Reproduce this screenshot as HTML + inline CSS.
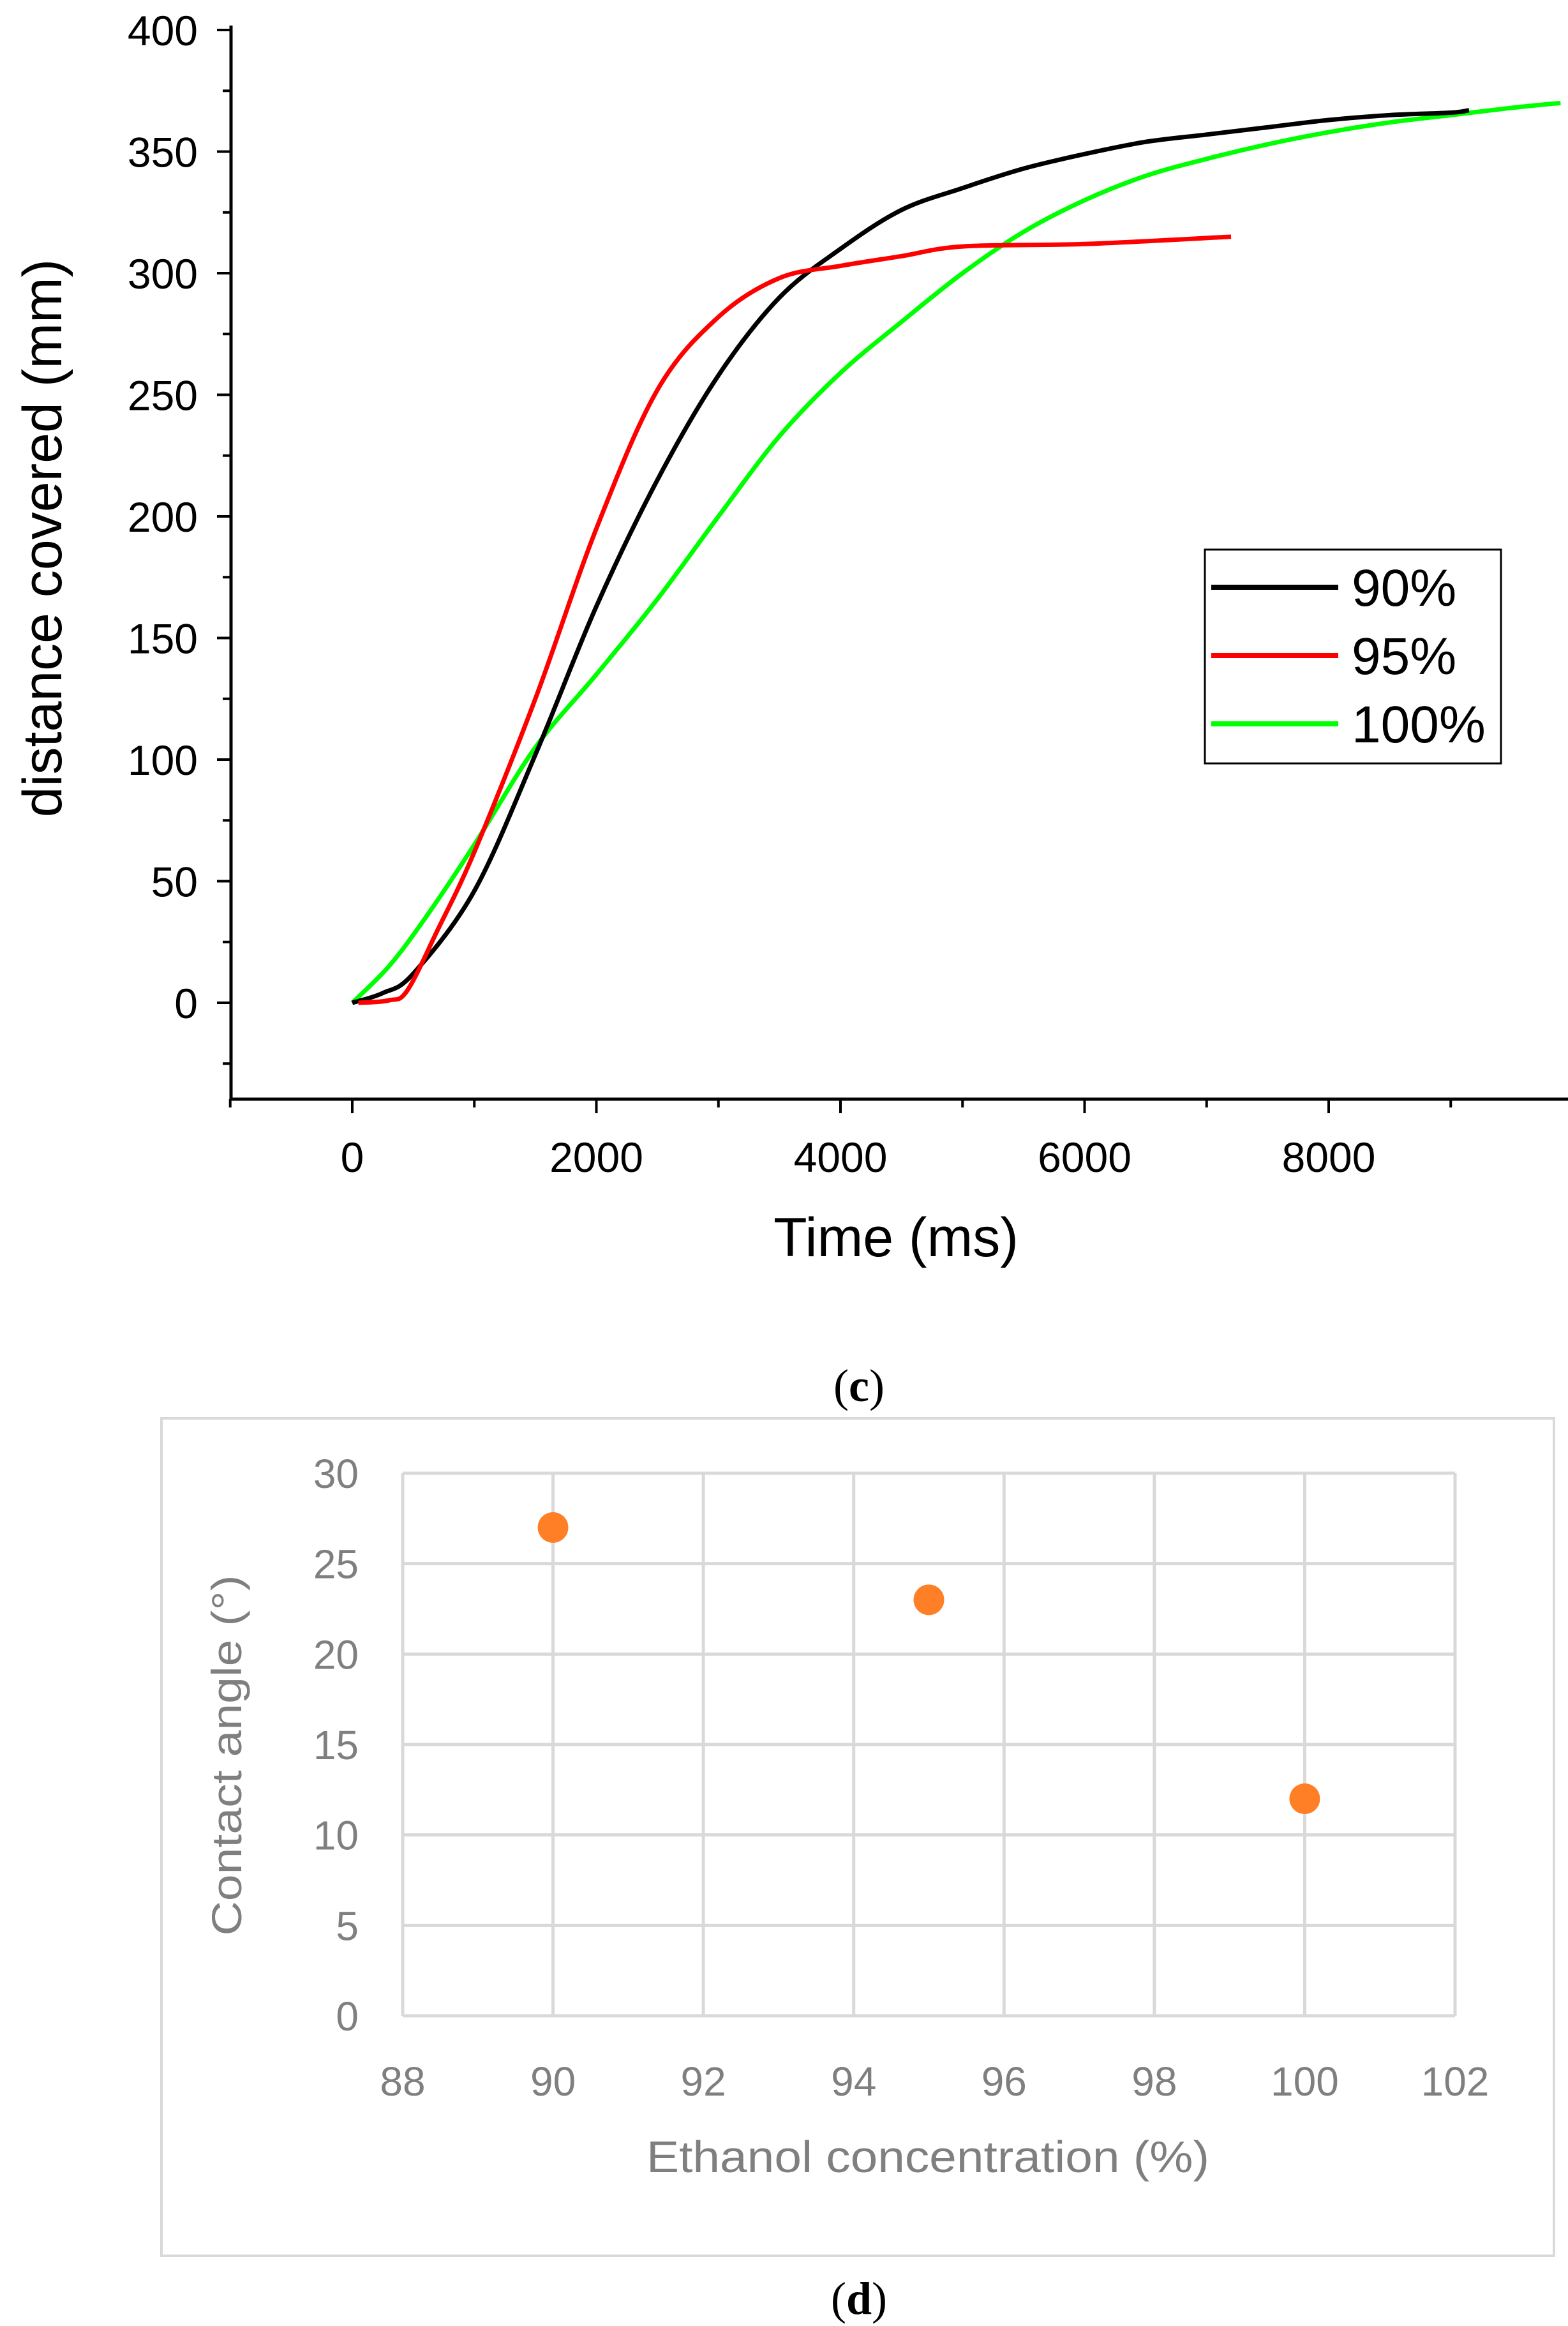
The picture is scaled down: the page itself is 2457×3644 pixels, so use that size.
<!DOCTYPE html>
<html><head><meta charset="utf-8">
<style>
html,body{margin:0;padding:0;background:#fff;}
svg{display:block;}
</style></head>
<body>
<svg id="fig" width="2457" height="3644" viewBox="0 0 2457 3644" xmlns="http://www.w3.org/2000/svg" font-family="Liberation Sans, sans-serif">
  <g id="chartC"></g>
  <text x="1346" y="2195" text-anchor="middle" font-family="Liberation Serif, serif" font-size="72">(<tspan font-weight="bold">c</tspan>)</text>
  <g id="chartD"></g>
  <text x="1346" y="3625" text-anchor="middle" font-family="Liberation Serif, serif" font-size="72">(<tspan font-weight="bold">d</tspan>)</text>
</svg>
<script>
// ---- Chart (c) data ----
const seriesNames = ["90%", "95%", "100%"];
const seriesColors = ["#000000", "#ff0000", "#00ff00"];
const t90 = [0,250,500,1000,1500,2000,2500,3000,3500,4000,4500,5000,5500,6000,6500,7000,7500,8000,8500,9000,9150];
const d90 = [0,4,12,46,102,163,215,258,290,310,326,335,343,349,354,357,360,363,365,366,367];
const t95 = [50,300,450,700,1000,1500,2000,2500,3000,3500,4000,4500,5000,6000,7200];
const d95 = [0,1,5,30,62,125,195,252,282,298,303,307,311,312,315];
const t100 = [0,300,600,1000,1500,2000,2500,3000,3500,4000,4500,5000,5500,6000,6500,7000,7500,8000,8500,9000,9500,9900];
const d100 = [0,15,35,65,105,135,166,200,233,259,280,300,317,330,340,347,353,358,362,365,368,370];
const yTicksC = [0,50,100,150,200,250,300,350,400];
const xTicksC = [0,2000,4000,6000,8000];

// ---- Chart (d) data ----
const ethanol = [90,95,100];
const angle = [27,23,12];
const xTicksD = [88,90,92,94,96,98,100,102];
const yTicksD = [0,5,10,15,20,25,30];

const NS = "http://www.w3.org/2000/svg";
function mk(parent, tag, attrs, text){
  const e = document.createElementNS(NS, tag);
  for (const k in attrs) e.setAttribute(k, attrs[k]);
  if (text !== undefined) e.textContent = text;
  parent.appendChild(e);
  return e;
}

// ===== Chart C =====
const gC = document.getElementById('chartC');
const xC = v => 552 + (v - 0) * (2082 - 552) / 8000;
const yC = v => 1571 - v * (1571 - 47) / 400;
const axX = 362, axY = 1722;

let a1 = mk(gC,'line',{x1:axX,y1:40,x2:axX,y2:axY,stroke:'#000','stroke-width':5});


let a2 = mk(gC,'line',{x1:axX-2,y1:axY,x2:2457,y2:axY,stroke:'#000','stroke-width':5});



for (let v = -25; v <= 400; v += 25) {
  const major = v % 50 === 0;
  const t = mk(gC,'line',{x1:axX-(major?22:13),y1:yC(v),x2:axX,y2:yC(v),stroke:'#000','stroke-width':4});
  
  
}
yTicksC.forEach(v=>{
  const t = mk(gC,'text',{x:310,y:yC(v)+24,'text-anchor':'end','font-size':66,fill:'#000'}, String(v));
  
  
});
for (let v = -1000; v <= 9000; v += 1000) {
  const major = v % 2000 === 0;
  const t = mk(gC,'line',{x1:xC(v),y1:axY,x2:xC(v),y2:axY+(major?22:13),stroke:'#000','stroke-width':4});
  
  
}
xTicksC.forEach(v=>{
  const t = mk(gC,'text',{x:xC(v),y:1836,'text-anchor':'middle','font-size':66,fill:'#000'}, String(v));
  
  
});
let xt = mk(gC,'text',{x:1404,y:1968,'text-anchor':'middle','font-size':86,fill:'#000'},'Time (ms)');


let yt = mk(gC,'text',{x:0,y:0,'text-anchor':'middle','font-size':86,fill:'#000',transform:'translate(96,843) rotate(-90)'},'distance covered (mm)');



function smoothPath(xs, ys){
  const p = xs.map((x,i)=>[xC(x), yC(ys[i])]);
  let d = `M${p[0][0]},${p[0][1]}`;
  for (let i=0;i<p.length-1;i++){
    const p0 = p[Math.max(0,i-1)], p1 = p[i], p2 = p[i+1], p3 = p[Math.min(p.length-1,i+2)];
    const c1x = p1[0] + (p2[0]-p0[0])/6, c1y = p1[1] + (p2[1]-p0[1])/6;
    const c2x = p2[0] - (p3[0]-p1[0])/6, c2y = p2[1] - (p3[1]-p1[1])/6;
    d += ` C${c1x},${c1y} ${c2x},${c2y} ${p2[0]},${p2[1]}`;
  }
  return d;
}
const tsets = [t90, t95, t100], dsets = [d90, d95, d100];
const clipC = mk(gC,'clipPath',{id:'clipC'});
mk(clipC,'rect',{x:axX,y:0,width:2457-axX,height:axY});
[2,0,1].forEach(i=>{
  const l = mk(gC,'path',{d:smoothPath(tsets[i], dsets[i]),fill:'none',stroke:seriesColors[i],'stroke-width':7,'stroke-linejoin':'round','clip-path':'url(#clipC)'});
  
  
});

const lg = mk(gC,'g',{});


mk(lg,'rect',{x:1888,y:861,width:464,height:335,fill:'#fff',stroke:'#000','stroke-width':3});
seriesNames.forEach((n,i)=>{
  const y = 920 + i*107;
  const e = mk(lg,'g',{});
  
  
  mk(e,'line',{x1:1898,y1:y,x2:2097,y2:y,stroke:seriesColors[i],'stroke-width':8});
  mk(e,'text',{x:2118,y:y+29,'font-size':82,fill:'#000'},n);
});

// ===== Chart D =====
const gD = document.getElementById('chartD');
const xD = v => 631 + (v - 88) * (2280 - 631) / 14;
const yD = v => 3158 - v * (3158 - 2308) / 30;
let fr = mk(gD,'rect',{x:253,y:2222,width:2182,height:1312,fill:'#fff',stroke:'#d9d9d9','stroke-width':4});


yTicksD.forEach(v=>{
  const g = mk(gD,'line',{x1:xD(88),y1:yD(v),x2:xD(102),y2:yD(v),stroke:'#d9d9d9','stroke-width':5});
  
  
  const t = mk(gD,'text',{x:562,y:yD(v)+23,'text-anchor':'end','font-size':64,fill:'#7f7f7f'},String(v));
  
  
});
xTicksD.forEach(v=>{
  const g = mk(gD,'line',{x1:xD(v),y1:yD(0),x2:xD(v),y2:yD(30),stroke:'#d9d9d9','stroke-width':5});
  
  
  const t = mk(gD,'text',{x:xD(v),y:3283,'text-anchor':'middle','font-size':64,fill:'#7f7f7f'},String(v));
  
  
});
let xtd = mk(gD,'text',{x:1454,y:3403,'text-anchor':'middle','font-size':70,fill:'#7f7f7f',textLength:882,lengthAdjust:'spacingAndGlyphs'},'Ethanol concentration (%)');


let ytd = mk(gD,'text',{x:0,y:0,'text-anchor':'middle','font-size':66,fill:'#7f7f7f',textLength:565,lengthAdjust:'spacingAndGlyphs',transform:'translate(378,2750) rotate(-90)'},'Contact angle (°)');


ethanol.forEach((x,i)=>{
  const c = mk(gD,'circle',{cx:xD(x),cy:yD(angle[i]),r:24,fill:'#ff7f27'});
  
  
});
</script>
</body></html>
